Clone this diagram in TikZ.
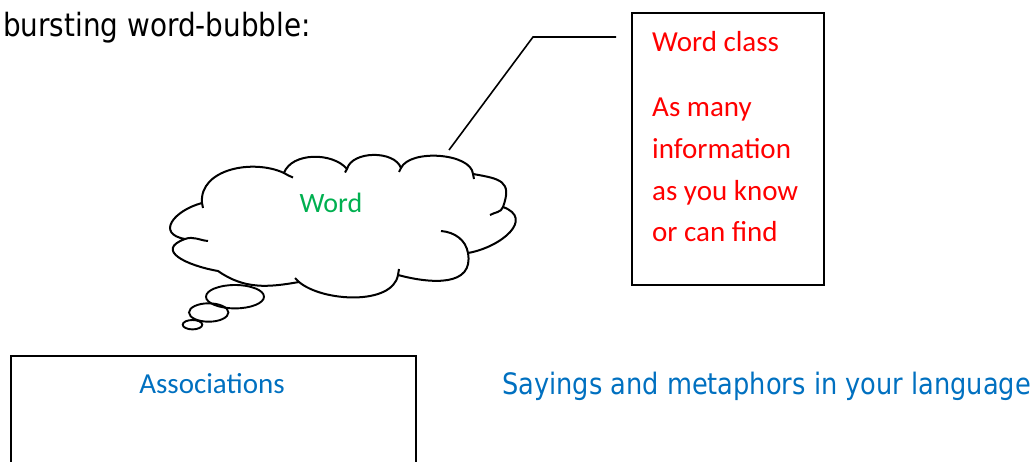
\documentclass[tikz,border=0pt]{standalone}
\usepackage{fontspec}
\newfontfamily\calibri{Carlito}
\newfontfamily\tahoma[FakeStretch=0.87]{DejaVu Sans}
\usetikzlibrary{shapes.geometric}
\definecolor{wordred}{RGB}{255,0,0}
\definecolor{wordgreen}{RGB}{0,176,80}
\definecolor{wordblue}{RGB}{0,112,192}

\begin{document}
\begin{tikzpicture}[x=1pt,y=1pt,
  outline/.style={draw=black, line width=2pt, line join=round},
  panel/.style={rectangle, draw=black, line width=2pt, inner sep=0pt, anchor=north west},
  puff/.style={ellipse, draw=black, line width=1.9pt, inner sep=0pt},
  leader/.style={draw=black, line width=1.6pt},
  bodytext/.style={inner sep=0pt, font=\calibri\fontsize{29}{41.7}\selectfont},
  headtext/.style={inner sep=0pt, anchor=base west}
]
\useasboundingbox (0,0) rectangle (1035,-462);

% heading
\node[headtext, font=\tahoma\fontsize{32}{38}\selectfont] (title) at (3,-37) {bursting word-bubble:};

% cusps of the cloud outline
\coordinate (C1)  at (202,-203);
\coordinate (C2)  at (284,-173);
\coordinate (C3)  at (347,-169);
\coordinate (C4)  at (401,-168);
\coordinate (C5)  at (473,-174);
\coordinate (C6)  at (503,-207);
\coordinate (C7)  at (468,-253);
\coordinate (C8)  at (398,-275);
\coordinate (C9)  at (299,-282);
\coordinate (C10) at (218,-271);
\coordinate (C11) at (185,-239);

% cloud body
\path[outline, fill=white]
  (C1) to[out=95,in=155] (C2)
       to[out=70,in=130,looseness=.9] (C3)
       to[out=75,in=110,looseness=.9] (C4)
       to[out=65,in=95,looseness=.75] (C5)
       to[out=-10,in=70,looseness=1.6] (C6)
       to[out=-20,in=10,looseness=1.5] (C7)
       to[out=-80,in=-15,looseness=1.2] (C8)
       to[out=-100,in=-40,looseness=.8] (C9)
       to[out=190,in=-35] (C10)
       to[out=170,in=200,looseness=1.8] (C11)
       to[out=170,in=195,looseness=1.9] (C1);

% short inner strokes where the puffs overlap
\draw[outline] (C1) -- (203,-208);
\draw[outline] (C2) to[out=-25,in=165] (293,-177.5);
\draw[outline] (C3) -- (345,-172.5);
\draw[outline] (C4) -- (399,-172);
\draw[outline] (C5) -- (474,-179);
\draw[outline] (C6) to[out=-110,in=30] (490,-215);
\draw[outline] (441,-231) to[out=-5,in=100] (C7);
\draw[outline] (C8) -- (399,-269);
\draw[outline] (C9) -- (295,-278);
\draw[outline] (C11) to[out=20,in=175] (208,-241);

% trailing thought puffs
\node[puff, minimum width=58, minimum height=23.4] (puffA) at (235,-296.7) {};
\node[puff, minimum width=39.4, minimum height=18.4] (puffB) at (208.7,-312.5) {};
\node[puff, minimum width=19.6, minimum height=9.4] (puffC) at (192.5,-324.7) {};

\node[bodytext, anchor=base, text=wordgreen, font=\calibri\fontsize{28}{34}\selectfont] (word) at (331,-213) {Word};

% information panel with its leader line
\node[panel, minimum width=192, minimum height=272] (infobox) at (631,-12) {};
\node[bodytext, anchor=base west, text=wordred] (wclass) at (652,-52) {Word class};
\node[bodytext, anchor=base west, text=wordred] (info) at (652,-116.7)
  {\parbox[t]{160pt}{\raggedright\fontsize{29}{41.7}\selectfont
   As many\\information\\as you know\\or can find}};

\coordinate (leadtip) at (449,-150);
\coordinate (leadknee) at (533,-37);
\coordinate (leadend) at (616,-37);
\draw[leader] (leadtip) -- (leadknee) -- (leadend);

% associations panel, running off the bottom edge
\node[panel, minimum width=405, minimum height=130] (assocbox) at (10,-355) {};
\node[bodytext, anchor=base, text=wordblue] (assoc) at (212,-393) {Associations};

\node[headtext, text=wordblue, font=\tahoma\fontsize{29.5}{34}\selectfont] (sayings) at (502,-394)
  {Sayings and metaphors in your language};
\end{tikzpicture}
\end{document}
